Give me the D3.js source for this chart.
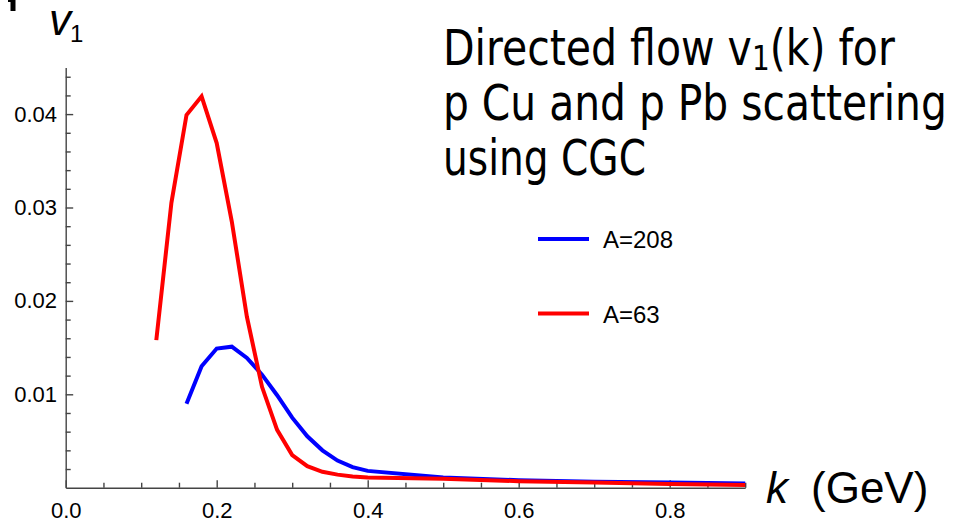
<!DOCTYPE html>
<html>
<head>
<meta charset="utf-8">
<script src="https://cdn.jsdelivr.net/npm/d3@7"></script>
<style>
  body { margin: 0; background: #fff; }
  svg { display: block; }
</style>
</head>
<body>
<div id="my_dataviz"></div>
<script>
// data
var kRed = [0.12, 0.14, 0.16, 0.18, 0.20, 0.22, 0.24, 0.26, 0.28, 0.30, 0.32, 0.34, 0.36, 0.38, 0.40, 0.5, 0.6, 0.7, 0.8, 0.9];
var v1Red = [0.0158, 0.0305, 0.0399, 0.0419, 0.0369, 0.0285, 0.0183, 0.0108, 0.0062, 0.0035, 0.0023, 0.0017, 0.0014, 0.0012, 0.0011, 0.00095, 0.0007, 0.00055, 0.0004, 0.0003];

var kBlue = [0.16, 0.18, 0.20, 0.22, 0.24, 0.26, 0.28, 0.30, 0.32, 0.34, 0.36, 0.38, 0.40, 0.5, 0.6, 0.7, 0.8, 0.9];
var v1Blue = [0.0090, 0.0130, 0.0149, 0.0151, 0.0139, 0.0121, 0.0099, 0.0075, 0.0055, 0.0040, 0.0029, 0.0022, 0.0018, 0.0011, 0.0008, 0.00065, 0.00055, 0.00045];

var seriesNames = ["A=208", "A=63"];
var seriesColors = ["#0000ff", "#ff0000"];

var xTicks = [0.0, 0.2, 0.4, 0.6, 0.8];
var yTicks = [0.01, 0.02, 0.03, 0.04];

var titleLines = ["Directed flow v", "p Cu and p Pb scattering", "using CGC"];

var width = 966, height = 520;

var svg = d3.select("#my_dataviz")
  .append("svg")
    .attr("width", width)
    .attr("height", height);

var x = d3.scaleLinear()
  .domain([0, 0.9])
  .range([65.7, 745.2]);

var y = d3.scaleLinear()
  .domain([0, 0.045])
  .range([487.7, 67.4]);

var axisColor = "#444";
var tickFont = "'Liberation Sans', Arial, sans-serif";

// minor ticks
var xMinor = d3.range(0, 0.9001, 0.05).filter(function(d) { return Math.abs(d * 5 - Math.round(d * 5)) > 1e-6; });
var yMinor = d3.range(0.002, 0.0451, 0.002).filter(function(d) { return Math.abs(d * 100 - Math.round(d * 100)) > 1e-6; });

svg.append("g")
  .attr("transform", "translate(0," + y(0) + ")")
  .call(d3.axisBottom(x).tickValues(xTicks).tickFormat(d3.format(".1f"))
    .tickSizeInner(-7.5).tickSizeOuter(0).tickPadding(14.2));
svg.append("g")
  .attr("transform", "translate(0," + y(0) + ")")
  .call(d3.axisBottom(x).tickValues(xMinor).tickFormat("")
    .tickSizeInner(-5).tickSizeOuter(0))
  .call(function(g) { g.select(".domain").remove(); });

svg.append("g")
  .attr("transform", "translate(" + x(0) + ",0)")
  .call(d3.axisLeft(y).tickValues(yTicks).tickFormat(d3.format(".2f"))
    .tickSizeInner(-7.5).tickSizeOuter(0).tickPadding(8.7));
svg.append("g")
  .attr("transform", "translate(" + x(0) + ",0)")
  .call(d3.axisLeft(y).tickValues(yMinor).tickFormat("")
    .tickSizeInner(-5).tickSizeOuter(0))
  .call(function(g) { g.select(".domain").remove(); });

svg.selectAll(".domain, .tick line")
  .attr("stroke", axisColor)
  .attr("stroke-width", 1.4);
svg.selectAll(".tick text")
  .attr("fill", "#000")
  .style("font-family", tickFont)
  .style("font-size", "22px");

// curves
var line = d3.line()
  .x(function(d) { return x(d[0]); })
  .y(function(d) { return y(d[1]); });

var blueData = d3.zip(kBlue, v1Blue);
var redData = d3.zip(kRed, v1Red);

svg.append("path")
  .datum(blueData)
  .attr("fill", "none")
  .attr("stroke", seriesColors[0])
  .attr("stroke-width", 4)
  .attr("d", line);

svg.append("path")
  .datum(redData)
  .attr("fill", "none")
  .attr("stroke", seriesColors[1])
  .attr("stroke-width", 4)
  .attr("d", line);

// legend
var legendY = [239, 313.5];
var legend = svg.append("g");
seriesNames.forEach(function(name, i) {
  legend.append("line")
    .attr("x1", 538).attr("x2", 589)
    .attr("y1", legendY[i]).attr("y2", legendY[i])
    .attr("stroke", seriesColors[i])
    .attr("stroke-width", 4);
  legend.append("text")
    .attr("x", 603)
    .attr("y", legendY[i] + 9)
    .style("font-family", tickFont)
    .style("font-size", "24px")
    .text(name);
});

// axis labels
var yLab = svg.append("text")
  .attr("x", 49)
  .attr("y", 35)
  .style("font-family", tickFont);
yLab.append("tspan")
  .style("font-size", "44px")
  .style("font-style", "italic")
  .text("v");
yLab.append("tspan")
  .attr("x", 70)
  .attr("y", 42)
  .style("font-size", "24px")
  .text("1");

var xLab = svg.append("text")
  .attr("x", 766)
  .attr("y", 503)
  .style("font-family", tickFont)
  .style("font-size", "44px");
xLab.append("tspan")
  .style("font-style", "italic")
  .text("k");
xLab.append("tspan")
  .attr("x", 811)
  .text("(GeV)");

// small cropped glyph at the top-left corner
svg.append("path")
  .attr("d", "M8,0 H15.5 V11 H10.5 V2 H8 Z")
  .attr("fill", "#000");

// title
var titleFont = "'DejaVu Sans', Verdana, sans-serif";
var titleX = 443;
var titleBase = [65, 120, 175];
var titleWidth = [452, 504, 203];

titleLines.forEach(function(str, i) {
  var t = svg.append("text")
    .attr("x", 0)
    .attr("y", 0)
    .style("font-family", titleFont)
    .style("font-size", "50px")
    .attr("fill", "#000");
  t.append("tspan").text(str);
  if (i === 0) {
    t.append("tspan").attr("dy", 5).style("font-size", "34px").text("1");
    t.append("tspan").attr("dy", -5).text("(k) for");
  }
  var w = t.node().getComputedTextLength();
  t.attr("transform", "translate(" + titleX + "," + titleBase[i] + ") scale(" + (titleWidth[i] / w) + ",1)");
});
</script>
</body>
</html>
